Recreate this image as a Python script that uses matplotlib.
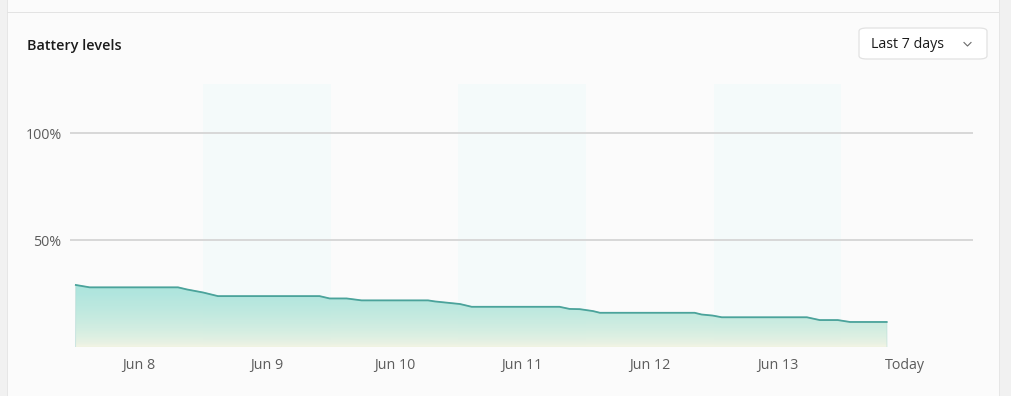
import matplotlib
matplotlib.use("Agg")
import numpy as np
from matplotlib import pyplot as plt
from matplotlib.patches import FancyBboxPatch, Rectangle

# Battery level readings: hours since start of Jun 8, percent
hours = [0.1, 2.7, 19.3, 21.0, 24.0, 26.8, 45.9, 47.8, 51.0, 53.8, 66.3, 67.6,
         72.3, 74.5, 91.0, 92.9, 94.8, 97.3, 98.6, 116.4, 117.7, 119.8, 121.5,
         137.5, 139.9, 143.3, 145.6, 152.5]
level = [29.0, 27.9, 27.9, 26.9, 25.5, 23.8, 23.8, 22.7, 22.7, 21.8, 21.8, 21.3,
         20.1, 18.8, 18.8, 17.8, 17.7, 16.8, 16.0, 16.0, 15.2, 14.7, 13.9,
         13.9, 12.6, 12.6, 11.7, 11.7]

day_labels = ['Jun 8', 'Jun 9', 'Jun 10', 'Jun 11', 'Jun 12', 'Jun 13', 'Today']
shaded_days = [1, 3, 5]
y_ticks = [50, 100]
y_tick_labels = ['50%', '100%']

bg = '#fbfbfb'
font = ['Open Sans', 'DejaVu Sans']

fig = plt.figure(figsize=(10.12, 3.96), dpi=100)
fig.patch.set_facecolor(bg)

# page frame: left strip, right strip, top card border
fig.patches.append(Rectangle((0, 0), 7 / 1012, 1, transform=fig.transFigure,
                             facecolor='#f1f1f1', edgecolor='none'))
fig.patches.append(Rectangle((7 / 1012, 0), 1 / 1012, 1, transform=fig.transFigure,
                             facecolor='#e6e6e6', edgecolor='none'))
fig.patches.append(Rectangle((1000 / 1012, 0), 12 / 1012, 1, transform=fig.transFigure,
                             facecolor='#f1f1f1', edgecolor='none'))
fig.patches.append(Rectangle((999 / 1012, 0), 1 / 1012, 1, transform=fig.transFigure,
                             facecolor='#e6e6e6', edgecolor='none'))
fig.patches.append(Rectangle((7 / 1012, 1 - 13 / 396), 992 / 1012, 1.2 / 396,
                             transform=fig.transFigure, facecolor='#e3e3e3',
                             edgecolor='none'))

fig.text(27 / 1012, 1 - 46 / 396, 'Battery levels', fontsize=10.4, fontweight='semibold',
         family=font, color='#1b1b1b', va='center', ha='left')

# dropdown
fig.patches.append(FancyBboxPatch((859 / 1012, 1 - 59 / 396), 128 / 1012, 31 / 396,
                                  boxstyle='round,pad=0,rounding_size=0.008',
                                  transform=fig.transFigure, facecolor='white',
                                  edgecolor='#e2e2e2', linewidth=0.9))
fig.text(871 / 1012, 1 - 44.5 / 396, 'Last 7 days', fontsize=10.3, family=font,
         color='#1b1b1b', va='center', ha='left')
fig.lines.append(plt.Line2D([964 / 1012, 967.5 / 1012, 971 / 1012],
                            [1 - 42.5 / 396, 1 - 46 / 396, 1 - 42.5 / 396],
                            transform=fig.transFigure, color='#6a6a6a', lw=0.8))

ax = fig.add_axes([70 / 1012, 49 / 396, 903 / 1012, 263 / 396])
ax.set_facecolor(bg)
ax.set_xlim(-1.0, 24 * 7.03)
ax.set_ylim(0, 123)

for d in shaded_days:
    ax.axvspan(d * 24, (d + 1) * 24, color='#f4fafa', zorder=0, lw=0)

for y in y_ticks:
    ax.axhline(y, color='#d8d8d8', lw=1.4, zorder=1)

x = np.array(hours)
y = np.array(level)
xs = np.concatenate([[x[0]], x, [x[-1]]])
ys = np.concatenate([[0], y, [0]])
poly = ax.fill(xs, ys, facecolor='none', edgecolor='#b9ddd7', lw=0.8, zorder=2)[0]

# vertical gradient: teal at top to cream at bottom
top = np.array([0.64, 0.89, 0.86])
bottom = np.array([0.97, 0.96, 0.89])
t = (np.linspace(0, 1, 256) ** 0.6)[:, None]
grad = (bottom * (1 - t) + top * t)[:, None, :].repeat(2, axis=1)
im = ax.imshow(grad, extent=[x[0], x[-1], 0, max(level)], origin='lower',
               aspect='auto', zorder=2, alpha=0.92)
im.set_clip_path(poly)

ax.plot(x, y, color='#4ba39b', lw=1.3, zorder=3)

ax.set_xticks([d * 24 + 12 for d in range(len(day_labels))])
ax.set_xticklabels(day_labels)
ax.set_yticks(y_ticks)
ax.set_yticklabels(y_tick_labels)
ax.tick_params(length=0, labelsize=10.3, labelcolor='#5c5c5c', pad=6)
ax.tick_params(axis='x', pad=8)
for lbl in ax.get_xticklabels() + ax.get_yticklabels():
    lbl.set_family(font)
for s in ax.spines.values():
    s.set_visible(False)

plt.savefig('out.png', dpi=100, facecolor=fig.get_facecolor())
